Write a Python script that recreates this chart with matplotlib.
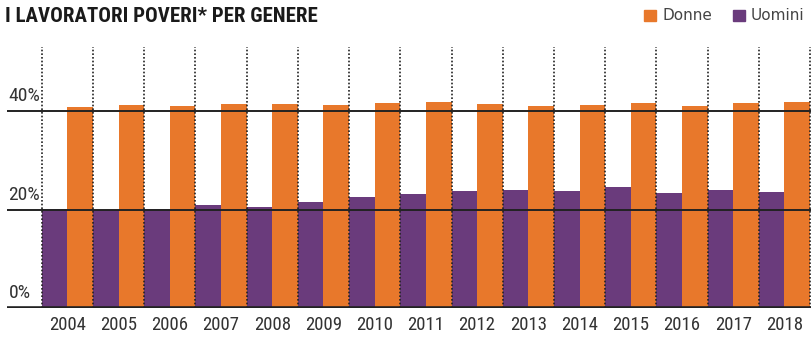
import matplotlib
matplotlib.use('Agg')
import matplotlib.pyplot as plt
from matplotlib import font_manager

#==================================================================
# data
anni = ['2004', '2005', '2006', '2007', '2008', '2009', '2010', '2011',
        '2012', '2013', '2014', '2015', '2016', '2017', '2018']
donne = [40.8, 41.2, 41.0, 41.4, 41.4, 41.2, 41.6, 41.8,
         41.4, 41.1, 41.2, 41.6, 41.1, 41.6, 41.8]
uomini = [20.1, 19.9, 20.1, 20.9, 20.5, 21.6, 22.6, 23.1,
          23.8, 24.0, 23.8, 24.5, 23.4, 23.9, 23.6]
yticks = [0, 20, 40]
#==================================================================

# look for a narrow face on the system, the original uses a condensed one
def find_narrow(bold):
    best = None
    for f in font_manager.fontManager.ttflist:
        fn = f.fname.lower()
        if ('narrow' in fn or 'condensed' in fn) and 'mono' not in fn and 'oblique' not in fn \
                and 'italic' not in fn:
            isbold = 'bold' in fn and 'semibold' not in fn and 'extrabold' not in fn
            if isbold == bold and 'light' not in fn and 'thin' not in fn and 'medium' not in fn:
                if best is None or 'liberation' in fn or 'roboto' in fn:
                    best = f.fname
    return best

fb = find_narrow(True)
fr = find_narrow(False)
title_fp = font_manager.FontProperties(fname=fb, size=15) if fb else \
    font_manager.FontProperties(family='DejaVu Sans', weight='bold', size=11)
tick_fp = font_manager.FontProperties(fname=fr, size=13.5) if fr else \
    font_manager.FontProperties(family='DejaVu Sans', size=10)
ylab_fp = font_manager.FontProperties(fname=fr, size=14) if fr else \
    font_manager.FontProperties(family='DejaVu Sans', size=11)

ORANGE = '#E8782B'
PURPLE = '#6A3B7C'
INK = '#222222'

fig = plt.figure(figsize=(8.11, 3.37), dpi=100)
ax = fig.add_axes([7 / 811, 1 - 308 / 337, 804 / 811, (308 - 47) / 337])

x = list(range(len(anni)))
ax.bar([i - 0.25 for i in x], uomini, width=0.5, color=PURPLE, zorder=2)
ax.bar([i + 0.25 for i in x], donne, width=0.5, color=ORANGE, zorder=2)

# dotted separators between years
for i in range(len(anni) + 1):
    ax.axvline(i - 0.5, color=INK, linestyle=(0, (1, 1.2)), linewidth=1.2, zorder=3)

# horizontal rules and labels sitting on them
for t in yticks:
    ax.axhline(t, color=INK, linewidth=2.6 if t == 0 else 1.4, zorder=4)
    ax.text(-1.15, t + 1.2, f'{t}%', ha='left', va='bottom', fontproperties=ylab_fp,
            color='#333333')

ax.set_xlim(-1.18, 14.52)
ax.set_ylim(0, 53)
ax.set_xticks(x)
ax.set_xticklabels(anni, fontproperties=tick_fp, color='#333333')
ax.tick_params(axis='x', length=0, pad=6)
ax.set_yticks([])
for s in ax.spines.values():
    s.set_visible(False)

fig.text(5 / 811, 1 - 7 / 337, 'I LAVORATORI POVERI* PER GENERE', ha='left', va='top',
         fontproperties=title_fp, color='#1a1a1a')

# legend
for xp, col, lab in [(644, ORANGE, 'Donne'), (733, PURPLE, 'Uomini')]:
    fig.patches.append(plt.Rectangle((xp / 811, 1 - 21 / 337), 12 / 811, 11 / 337,
                                     color=col, transform=fig.transFigure))
    fig.text((xp + 18) / 811, 1 - 16 / 337, lab, ha='left', va='center',
             fontsize=11, color='#444444')

fig.savefig('out.png', dpi=100)
